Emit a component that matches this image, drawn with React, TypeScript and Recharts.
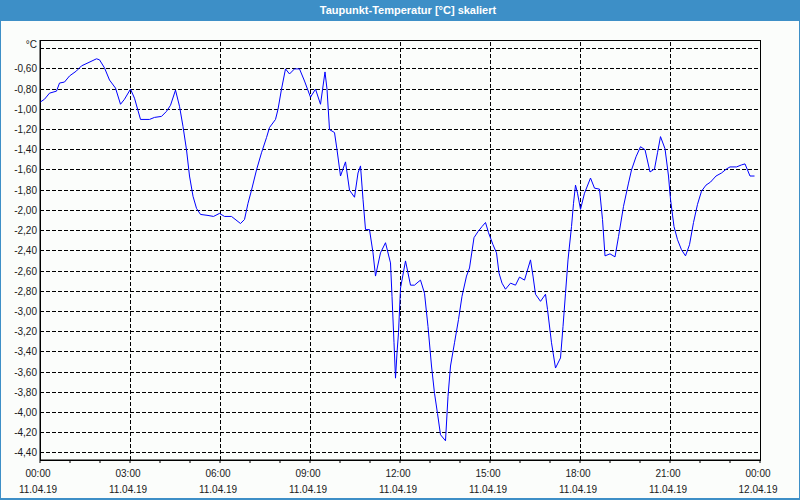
import { LineChart, Line, XAxis, YAxis, CartesianGrid, ReferenceLine, ReferenceArea } from 'recharts';

// minutes since 11.04.19 00:00
const MINUTES = [
  0, 9, 19, 33, 39, 49, 59, 73, 83, 96, 113, 119, 129, 139, 151, 161, 169, 181, 189, 201,
  219, 229, 243, 253, 261, 271, 279, 286, 293, 299, 306, 313, 321, 336, 347, 359, 369, 383, 401, 409,
  416, 423, 433, 443, 453, 459, 471, 476, 483, 491, 499, 509, 519, 529, 541, 551, 561, 570, 574, 579,
  589, 594, 601, 611, 619, 629, 636, 641, 646, 651, 659, 666, 671, 681, 691, 701, 704, 708, 711, 714,
  717, 721, 731, 741, 749, 756, 761, 769, 776, 783, 789, 795, 801, 811, 816, 821, 829, 837, 844, 853,
  859, 868, 876, 884, 891, 897, 906, 913, 918, 924, 931, 941, 951, 959, 969, 981, 986, 991, 1001, 1011,
  1015, 1023, 1031, 1041, 1046, 1051, 1056, 1063, 1067, 1071, 1075, 1081, 1089, 1101, 1109, 1119, 1125, 1130, 1140, 1150,
  1157, 1167, 1177, 1183, 1192, 1201, 1210, 1220, 1229, 1235, 1241, 1250, 1257, 1261, 1268, 1275, 1283, 1291, 1299, 1307,
  1315, 1323, 1332, 1341, 1352, 1363, 1373, 1380, 1393, 1403, 1410, 1420, 1429
];

// Taupunkt in °C
const DEW_POINT = [
  -0.93, -0.9, -0.84, -0.82, -0.74, -0.73, -0.67, -0.62, -0.57, -0.54, -0.5, -0.51, -0.59, -0.71, -0.79, -0.95, -0.9, -0.8, -0.89, -1.1,
  -1.1, -1.08, -1.07, -1.02, -0.96, -0.81, -0.97, -1.17, -1.4, -1.66, -1.86, -1.98, -2.04, -2.05, -2.06, -2.03, -2.06, -2.06, -2.13, -2.09,
  -1.93, -1.8, -1.6, -1.43, -1.28, -1.18, -1.1, -1.0, -0.8, -0.6, -0.65, -0.6, -0.6, -0.72, -0.88, -0.8, -0.95, -0.63, -0.8, -1.2,
  -1.23, -1.4, -1.66, -1.52, -1.8, -1.87, -1.63, -1.56, -1.89, -2.19, -2.19, -2.42, -2.65, -2.42, -2.32, -2.52, -2.85, -3.31, -3.66, -3.41,
  -3.21, -2.77, -2.5, -2.74, -2.74, -2.71, -2.69, -2.82, -3.15, -3.54, -3.81, -4.01, -4.22, -4.28, -3.84, -3.54, -3.31, -3.08, -2.85, -2.65,
  -2.57, -2.27, -2.21, -2.16, -2.12, -2.22, -2.34, -2.42, -2.62, -2.72, -2.78, -2.72, -2.74, -2.66, -2.69, -2.49, -2.65, -2.83, -2.9, -2.83,
  -2.98, -3.31, -3.56, -3.46, -3.15, -2.82, -2.49, -2.16, -1.93, -1.75, -1.83, -1.99, -1.83, -1.68, -1.78, -1.79, -2.09, -2.45, -2.43, -2.46,
  -2.26, -1.96, -1.73, -1.6, -1.47, -1.37, -1.4, -1.62, -1.59, -1.43, -1.27, -1.39, -1.66, -1.89, -2.16, -2.29, -2.39, -2.45, -2.34, -2.12,
  -1.94, -1.81, -1.75, -1.72, -1.66, -1.63, -1.59, -1.57, -1.57, -1.55, -1.54, -1.66, -1.66
];

const HOUR_TICKS = [
  0, 60, 120, 180, 240, 300, 360, 420, 480, 540, 600, 660, 720, 780, 840, 900, 960, 1020, 1080, 1140, 1200, 1260, 1320, 1380, 1440
];
const MAJOR_TICKS = [0, 180, 360, 540, 720, 900, 1080, 1260, 1440];
const TIME_LABELS = ['00:00', '03:00', '06:00', '09:00', '12:00', '15:00', '18:00', '21:00', '00:00'];
const DATE_LABELS = ['11.04.19', '11.04.19', '11.04.19', '11.04.19', '11.04.19', '11.04.19', '11.04.19', '11.04.19', '12.04.19'];

const Y_TICKS = [
  -4.4, -4.2, -4.0, -3.8, -3.6, -3.4, -3.2, -3.0, -2.8, -2.6, -2.4, -2.2, -2.0, -1.8, -1.6, -1.4, -1.2, -1.0, -0.8, -0.6, -0.4
];
const Y_MIN = -4.47;
const Y_MAX = -0.314;

const FONT = '"Liberation Sans", Arial, sans-serif';
const TEXT_COLOR = '#1a1a1a';

const data = MINUTES.map((t, i) => ({ t, v: DEW_POINT[i] }));

const XTick = ({ x, y, payload }: any) => {
  const idx = MAJOR_TICKS.indexOf(payload.value);
  if (idx < 0) return null;
  return (
    <g>
      <text x={x - 2} y={y + 13.5} textAnchor="middle" fontSize={10} fontFamily={FONT} fill={TEXT_COLOR}>
        {TIME_LABELS[idx]}
      </text>
      <text x={x - 2} y={y + 29.5} textAnchor="middle" fontSize={10} fontFamily={FONT} fill={TEXT_COLOR}>
        {DATE_LABELS[idx]}
      </text>
    </g>
  );
};

const YTick = ({ x, y, payload }: any) => {
  const v = payload.value as number;
  const top = Math.abs(v + 0.4) < 0.001;
  return (
    <text x={x} y={top ? y - 1 : y + 3.5} textAnchor="end" fontSize={10} fontFamily={FONT} fill={TEXT_COLOR}>
      {top ? '°C' : v.toFixed(2).replace('.', ',')}
    </text>
  );
};

export default function App() {
  return (
    <div style={{ position: 'fixed', left: 0, top: 0, width: 800, height: 500, background: '#3d8fc7' }}>
      <div style={{ position: 'absolute', left: 1, top: 21, width: 798, height: 477, background: '#fbfdfb' }} />
      <div
        style={{
          position: 'absolute',
          left: 8,
          top: 3,
          width: 800,
          textAlign: 'center',
          color: '#ffffff',
          fontFamily: FONT,
          fontSize: 11,
          fontWeight: 'bold',
          lineHeight: '14px'
        }}
      >
        Taupunkt-Temperatur [°C] skaliert
      </div>
      <div style={{ position: 'absolute', left: 0, top: 0 }}>
        <LineChart width={800} height={500} data={data} margin={{ top: 40, right: 40, bottom: 0, left: 0 }}>
          <CartesianGrid
            vertical={false}
            stroke="#000"
            strokeDasharray="4 2"
            shapeRendering="crispEdges"
          />
          {MAJOR_TICKS.slice(1, -1).map((t) => (
            <ReferenceLine
              key={t}
              x={t}
              stroke="#000"
              strokeDasharray="4 2"
              shapeRendering="crispEdges"
            />
          ))}
          <ReferenceArea
            x1={0}
            x2={1440}
            y1={Y_MIN}
            y2={Y_MAX}
            fill="none"
            stroke="#000"
            strokeWidth={1}
            shapeRendering="crispEdges"
          />
          <XAxis
            dataKey="t"
            type="number"
            domain={[0, 1440]}
            ticks={HOUR_TICKS}
            interval={0}
            height={40}
            tickSize={3}
            tickMargin={0}
            tick={<XTick />}
            stroke="#000"
            axisLine={{ stroke: '#000' }}
            tickLine={{ stroke: '#000' }}
            allowDataOverflow
          />
          <YAxis
            type="number"
            domain={[Y_MIN, Y_MAX]}
            ticks={Y_TICKS}
            interval={0}
            width={40}
            tickSize={0}
            tickMargin={3}
            tickLine={false}
            tick={<YTick />}
            axisLine={{ stroke: '#000' }}
            allowDataOverflow
          />
          <Line
            type="linear"
            dataKey="v"
            stroke="#0000ff"
            strokeWidth={1}
            dot={false}
            isAnimationActive={false}
          />
        </LineChart>
      </div>
    </div>
  );
}
